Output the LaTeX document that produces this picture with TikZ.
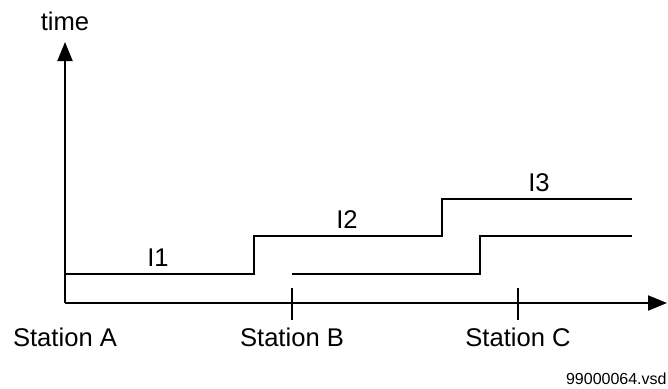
\documentclass[tikz,border=0pt]{standalone}
\usepackage{fontspec}
\setmainfont{Liberation Sans}
\usetikzlibrary{arrows.meta}
\begin{document}
\begin{tikzpicture}[x=0.5pt,y=-0.5pt,
  axis/.style={line width=1pt,-{Triangle[length=9.5pt,width=7.5pt]}},
  trace/.style={line width=1pt},
  tick/.style={line width=1pt},
  lbl/.style={font=\fontsize{12.8pt}{14pt}\selectfont,inner sep=0pt},
  note/.style={font=\fontsize{8pt}{9pt}\selectfont,inner sep=0pt}]
\useasboundingbox (0,0) rectangle (668,388);
% axes
\coordinate (o) at (65,303);
\coordinate (ytip) at (65,42);
\coordinate (xtip) at (667,303);
\draw[axis] (o) -- (ytip);
\draw[axis] (o) -- (xtip);
% ticks
\coordinate (tb1) at (292,288); \coordinate (tb2) at (292,320);
\coordinate (tc1) at (518,288); \coordinate (tc2) at (518,320);
\draw[tick] (tb1) -- (tb2);
\draw[tick] (tc1) -- (tc2);
% upper trace
\coordinate (a0) at (65,274);
\coordinate (a1) at (254,274);
\coordinate (a2) at (254,236);
\coordinate (a3) at (442,236);
\coordinate (a4) at (442,199);
\coordinate (a5) at (632,199);
\draw[trace] (a0) -- (a1) -- (a2) -- (a3) -- (a4) -- (a5);
% lower trace
\coordinate (b0) at (292,274);
\coordinate (b1) at (480,274);
\coordinate (b2) at (480,236);
\coordinate (b3) at (632,236);
\draw[trace] (b0) -- (b1) -- (b2) -- (b3);
% labels
\node[lbl] (time) at (65,21) {time};
\node[lbl] (sa) at (65,337) {Station A};
\node[lbl] (sb) at (292,337) {Station B};
\node[lbl] (sc) at (518,337) {Station C};
\node[lbl] (i1) at (158,258) {I1};
\node[lbl] (i2) at (347,220) {I2};
\node[lbl] (i3) at (539,183) {I3};
\node[note,anchor=east] (fn) at (667,379) {99000064.vsd};
\end{tikzpicture}
\end{document}
